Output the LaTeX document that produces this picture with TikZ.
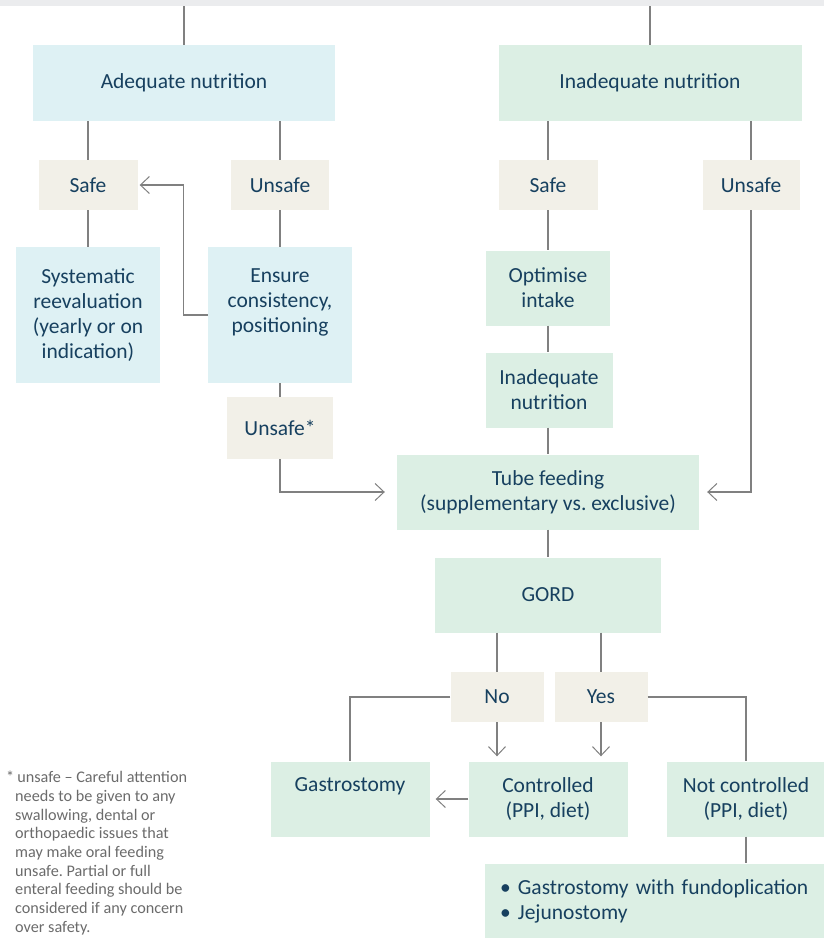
\documentclass[tikz,border=0pt]{standalone}
\usepackage{fontspec}
\setmainfont{Carlito}
\usetikzlibrary{arrows.meta,calc}
\frenchspacing
\definecolor{bandc}{HTML}{EBECEE}
\definecolor{cyanc}{HTML}{DEF1F4}
\definecolor{greenc}{HTML}{DCEFE4}
\definecolor{beigec}{HTML}{F2F0E8}
\definecolor{textc}{HTML}{17405F}
\definecolor{linec}{HTML}{808080}
\definecolor{notec}{HTML}{6B6B6B}
\tikzset{
  box/.style={inner sep=0pt, align=center, text=textc, font=\fontsize{21.5}{25}\selectfont},
  cbox/.style={box, fill=cyanc},
  gbox/.style={box, fill=greenc},
  bbox/.style={box, fill=beigec},
  conn/.style={draw=linec, line width=1.1pt},
  arr/.style={conn, -{Straight Barb[length=9pt,width=17pt,line width=1pt]}},
}
\begin{document}
\begin{tikzpicture}[x=1pt,y=-1pt]
\path[use as bounding box] (0,0) rectangle (824,938);
\fill[bandc] (0,0) rectangle (824,6);
\coordinate (bandL) at (184,6);
\coordinate (bandR) at (650,6);

\node[cbox, minimum width=302pt, minimum height=76pt] (adeq) at (184,83) {Adequate nutrition};
\node[gbox, minimum width=303pt, minimum height=76pt] (inadeq) at (650,83) {Inadequate nutrition};

\node[bbox, minimum width=99pt, minimum height=50pt] (safeL) at (88,185) {Safe};
\node[bbox, minimum width=98pt, minimum height=50pt] (unsafeL) at (280,185) {Unsafe};
\node[bbox, minimum width=99pt, minimum height=50pt] (safeR) at (548,185) {Safe};
\node[bbox, minimum width=97pt, minimum height=50pt] (unsafeR) at (751,185) {Unsafe};

\node[cbox, minimum width=144pt, minimum height=136pt] (syst) at (88,315) {Systematic\\reevaluation\\(yearly or on\\indication)};
\node[cbox, minimum width=144pt, minimum height=136pt] (ensure) at (280,315) {Ensure\\consistency,\\positioning\\\phantom{(yearly)}};

\node[gbox, minimum width=124pt, minimum height=75pt] (optim) at (548,288) {Optimise\\intake};
\node[gbox, minimum width=127pt, minimum height=75pt] (inadeq2) at (549,390) {Inadequate\\nutrition};

\node[bbox, minimum width=106pt, minimum height=62pt] (unsafeS) at (280,428) {Unsafe*};

\node[gbox, minimum width=302pt, minimum height=75pt] (tube) at (548,492) {Tube feeding\\(supplementary vs. exclusive)};
\node[gbox, minimum width=226pt, minimum height=75pt] (gord) at (548,595) {GORD};

\node[bbox, minimum width=93pt, minimum height=50pt] (no) at (497,697) {No};
\node[bbox, minimum width=93pt, minimum height=50pt] (yes) at (601,697) {Yes};

\node[gbox, minimum width=159pt, minimum height=75pt] (gast) at (350,799) {Gastrostomy\\\phantom{(PPI, diet)}};
\node[gbox, minimum width=159pt, minimum height=75pt] (ctrl) at (548,799) {Controlled\\(PPI, diet)};
\node[gbox, minimum width=158pt, minimum height=75pt] (notc) at (746,799) {Not controlled\\(PPI, diet)};

\node[gbox, text width=310pt, minimum height=75pt, anchor=west, align=left, inner xsep=15pt] (bul) at (485,901) {•\hspace{7pt}Gastrostomy with fundoplication\\•\hspace{7pt}Jejunostomy};

\node[anchor=north west, inner sep=0pt, align=left, text=notec, font=\fontsize{16.2}{18.7}\selectfont] (note) at (6,771) {*\hspace{3pt}unsafe – Careful attention\\
\hspace*{9pt}needs to be given to any\\
\hspace*{9pt}swallowing, dental or\\
\hspace*{9pt}orthopaedic issues that\\
\hspace*{9pt}may make oral feeding\\
\hspace*{9pt}unsafe. Partial or full\\
\hspace*{9pt}enteral feeding should be\\
\hspace*{9pt}considered if any concern\\
\hspace*{9pt}over safety.};

% connectors
\draw[conn] (bandL) -- (adeq.north);
\draw[conn] (bandR) -- (inadeq.north);
\draw[conn] (safeL.north |- adeq.south) -- (safeL.north);
\draw[conn] (unsafeL.north |- adeq.south) -- (unsafeL.north);
\draw[conn] (safeR.north |- inadeq.south) -- (safeR.north);
\draw[conn] (unsafeR.north |- inadeq.south) -- (unsafeR.north);
\draw[conn] (safeL.south) -- (syst.north);
\draw[conn] (unsafeL.south) -- (ensure.north);
\draw[arr, shorten >=2pt] (ensure.west) -- ++(-24,0) |- (safeL.east);
\draw[conn] (safeR.south) -- (optim.north);
\draw[conn] (optim.south) -- (optim.south |- inadeq2.north);
\draw[conn] (optim.south |- inadeq2.south) -- (tube.north);
\draw[conn] (ensure.south) -- (unsafeS.north);
\draw[arr, shorten >=12pt] (unsafeS.south) |- (tube.west);
\draw[arr, shorten >=8pt] (unsafeR.south) |- (tube.east);
\draw[conn] (tube.south) -- (gord.north);
\draw[conn] (no.north |- gord.south) -- (no.north);
\draw[conn] (yes.north |- gord.south) -- (yes.north);
\draw[arr, shorten >=5pt] (no.south) -- (no.south |- ctrl.north);
\draw[arr, shorten >=5pt] (yes.south) -- (yes.south |- ctrl.north);
\draw[conn] (no.west) -| (gast.north);
\draw[conn] (yes.east) -| (notc.north);
\draw[arr, shorten >=6pt] (ctrl.west) -- (gast.east);
\draw[conn] (notc.south) -- (notc.south |- bul.north);
\end{tikzpicture}
\end{document}
